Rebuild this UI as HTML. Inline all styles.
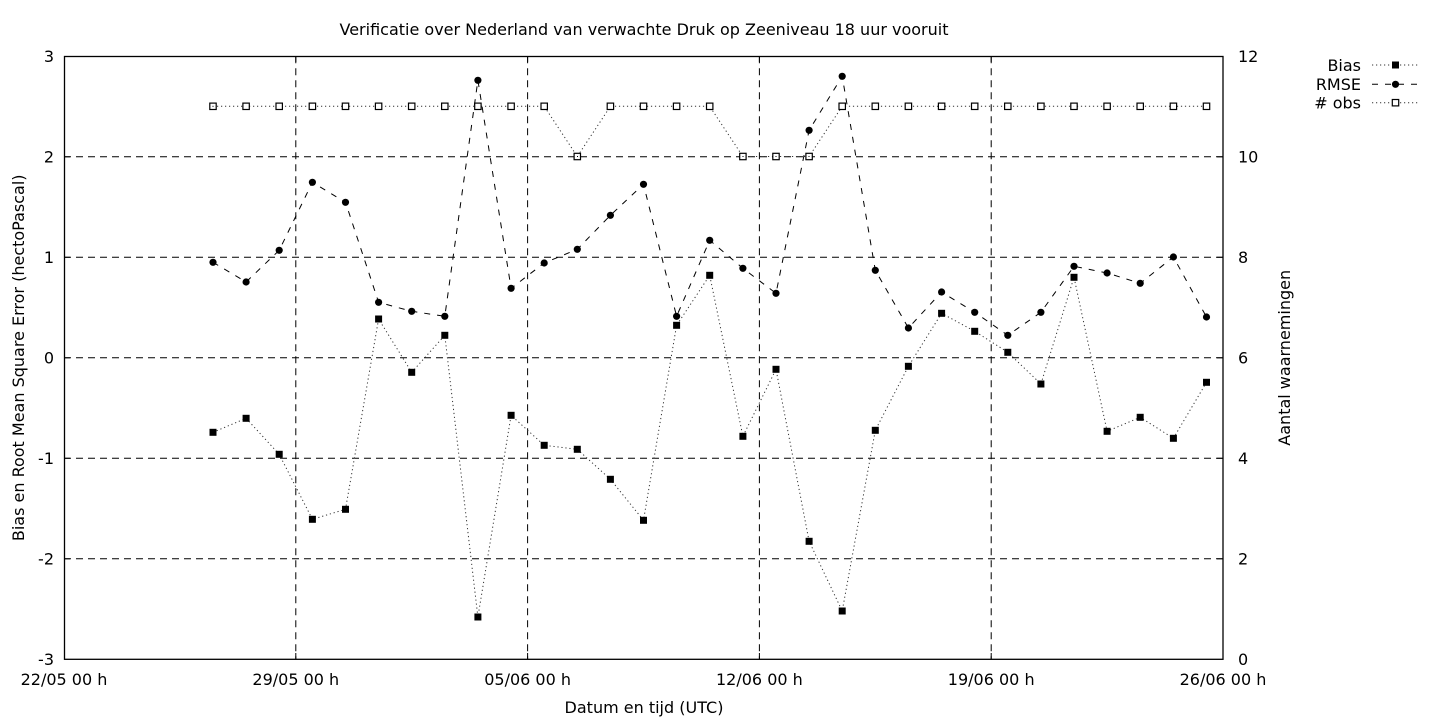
<!DOCTYPE html>
<html>
<head>
<meta charset="utf-8">
<style>
  html, body { margin:0; padding:0; background:#fff; }
  svg { display:block; }
  text { font-family: "DejaVu Sans", "Liberation Sans", sans-serif; font-size:16px; fill:#000; }
</style>
</head>
<body>
<svg width="1440" height="720" viewBox="0 0 1440 720" xmlns="http://www.w3.org/2000/svg">
  <rect x="0" y="0" width="1440" height="720" fill="#fff"/>

  <!-- Title -->
  <text x="644" y="35" text-anchor="middle">Verificatie over Nederland van verwachte Druk op Zeeniveau 18 uur vooruit</text>

  <!-- Grid -->
  <g stroke="#000" stroke-width="1" stroke-dasharray="7,5" fill="none">
    <line x1="64" y1="156.8" x2="1223" y2="156.8"/>
    <line x1="64" y1="257.3" x2="1223" y2="257.3"/>
    <line x1="64" y1="357.8" x2="1223" y2="357.8"/>
    <line x1="64" y1="458.3" x2="1223" y2="458.3"/>
    <line x1="64" y1="558.8" x2="1223" y2="558.8"/>
    <line x1="295.8" y1="56.3" x2="295.8" y2="659.3"/>
    <line x1="527.6" y1="56.3" x2="527.6" y2="659.3"/>
    <line x1="759.4" y1="56.3" x2="759.4" y2="659.3"/>
    <line x1="991.2" y1="56.3" x2="991.2" y2="659.3"/>
  </g>

  <!-- Ticks -->
  <g stroke="#000" stroke-width="1">
    <line x1="64" y1="156.8" x2="70" y2="156.8"/>
    <line x1="64" y1="257.3" x2="70" y2="257.3"/>
    <line x1="64" y1="357.8" x2="70" y2="357.8"/>
    <line x1="64" y1="458.3" x2="70" y2="458.3"/>
    <line x1="64" y1="558.8" x2="70" y2="558.8"/>
    <line x1="1217" y1="156.8" x2="1223" y2="156.8"/>
    <line x1="1217" y1="257.3" x2="1223" y2="257.3"/>
    <line x1="1217" y1="357.8" x2="1223" y2="357.8"/>
    <line x1="1217" y1="458.3" x2="1223" y2="458.3"/>
    <line x1="1217" y1="558.8" x2="1223" y2="558.8"/>
    <line x1="295.8" y1="653" x2="295.8" y2="659.3"/>
    <line x1="527.6" y1="653" x2="527.6" y2="659.3"/>
    <line x1="759.4" y1="653" x2="759.4" y2="659.3"/>
    <line x1="991.2" y1="653" x2="991.2" y2="659.3"/>
    <line x1="295.8" y1="56.3" x2="295.8" y2="62"/>
    <line x1="527.6" y1="56.3" x2="527.6" y2="62"/>
    <line x1="759.4" y1="56.3" x2="759.4" y2="62"/>
    <line x1="991.2" y1="56.3" x2="991.2" y2="62"/>
  </g>

  <!-- Axes box -->
  <rect x="64.5" y="56.5" width="1158.5" height="602.8" fill="none" stroke="#000" stroke-width="1.3"/>

  <!-- Left tick labels -->
  <g text-anchor="end">
    <text x="54" y="62">3</text>
    <text x="54" y="162.5">2</text>
    <text x="54" y="263">1</text>
    <text x="54" y="363.5">0</text>
    <text x="54" y="464">-1</text>
    <text x="54" y="564.5">-2</text>
    <text x="54" y="665">-3</text>
  </g>

  <!-- Right tick labels -->
  <g text-anchor="start">
    <text x="1238" y="62">12</text>
    <text x="1238" y="162.5">10</text>
    <text x="1238" y="263">8</text>
    <text x="1238" y="363.5">6</text>
    <text x="1238" y="464">4</text>
    <text x="1238" y="564.5">2</text>
    <text x="1238" y="665">0</text>
  </g>

  <!-- X tick labels -->
  <g text-anchor="middle">
    <text x="64" y="685">22/05 00 h</text>
    <text x="295.8" y="685">29/05 00 h</text>
    <text x="527.6" y="685">05/06 00 h</text>
    <text x="759.4" y="685">12/06 00 h</text>
    <text x="991.2" y="685">19/06 00 h</text>
    <text x="1223" y="685">26/06 00 h</text>
  </g>

  <!-- Axis labels -->
  <text x="644" y="713" text-anchor="middle">Datum en tijd (UTC)</text>
  <text transform="translate(24,357.8) rotate(-90)" text-anchor="middle">Bias en Root Mean Square Error (hectoPascal)</text>
  <text transform="translate(1290,357.8) rotate(-90)" text-anchor="middle">Aantal waarnemingen</text>

  <!-- Bias series -->
  <polyline fill="none" stroke="#333" stroke-width="1" stroke-dasharray="1.2,2.8"
    points="213.0,432.3 246.1,418.3 279.2,454.3 312.4,519.3 345.5,509.3 378.6,319 411.7,372.3 444.8,335.3 477.9,617 511.1,415.3 544.2,445.3 577.3,449.3 610.4,479.3 643.5,520.3 676.6,325.3 709.7,275.3 742.9,436.3 776.0,369.3 809.1,541.3 842.2,611 875.3,430.3 908.4,366.3 941.6,313.3 974.7,331.3 1007.8,352.3 1040.9,384 1074.0,277.3 1107.1,431.3 1140.2,417.3 1173.4,438.3 1206.5,382.3"/>
  <g fill="#000">
    <rect x="209.5" y="428.8" width="7" height="7"/>
    <rect x="242.6" y="414.8" width="7" height="7"/>
    <rect x="275.7" y="450.8" width="7" height="7"/>
    <rect x="308.9" y="515.8" width="7" height="7"/>
    <rect x="342.0" y="505.8" width="7" height="7"/>
    <rect x="375.1" y="315.5" width="7" height="7"/>
    <rect x="408.2" y="368.8" width="7" height="7"/>
    <rect x="441.3" y="331.8" width="7" height="7"/>
    <rect x="474.4" y="613.5" width="7" height="7"/>
    <rect x="507.6" y="411.8" width="7" height="7"/>
    <rect x="540.7" y="441.8" width="7" height="7"/>
    <rect x="573.8" y="445.8" width="7" height="7"/>
    <rect x="606.9" y="475.8" width="7" height="7"/>
    <rect x="640.0" y="516.8" width="7" height="7"/>
    <rect x="673.1" y="321.8" width="7" height="7"/>
    <rect x="706.2" y="271.8" width="7" height="7"/>
    <rect x="739.4" y="432.8" width="7" height="7"/>
    <rect x="772.5" y="365.8" width="7" height="7"/>
    <rect x="805.6" y="537.8" width="7" height="7"/>
    <rect x="838.7" y="607.5" width="7" height="7"/>
    <rect x="871.8" y="426.8" width="7" height="7"/>
    <rect x="904.9" y="362.8" width="7" height="7"/>
    <rect x="938.1" y="309.8" width="7" height="7"/>
    <rect x="971.2" y="327.8" width="7" height="7"/>
    <rect x="1004.3" y="348.8" width="7" height="7"/>
    <rect x="1037.4" y="380.5" width="7" height="7"/>
    <rect x="1070.5" y="273.8" width="7" height="7"/>
    <rect x="1103.6" y="427.8" width="7" height="7"/>
    <rect x="1136.7" y="413.8" width="7" height="7"/>
    <rect x="1169.9" y="434.8" width="7" height="7"/>
    <rect x="1203.0" y="378.8" width="7" height="7"/>
  </g>

  <!-- RMSE series -->
  <polyline fill="none" stroke="#000" stroke-width="1" stroke-dasharray="6,7"
    points="213.0,262.3 246.1,282 279.2,250.3 312.4,182.3 345.5,202.3 378.6,302.3 411.7,311.3 444.8,316.3 477.9,80.3 511.1,288.3 544.2,263 577.3,249.3 610.4,215.3 643.5,184.3 676.6,316.3 709.7,240.3 742.9,268.3 776.0,293.3 809.1,130.3 842.2,76.3 875.3,270.3 908.4,328 941.6,292 974.7,312.3 1007.8,335.3 1040.9,312.3 1074.0,266.3 1107.1,273 1140.2,283.3 1173.4,257 1206.5,317"/>
  <g fill="#000">
    <circle cx="213.0" cy="262.3" r="3.6"/>
    <circle cx="246.1" cy="282" r="3.6"/>
    <circle cx="279.2" cy="250.3" r="3.6"/>
    <circle cx="312.4" cy="182.3" r="3.6"/>
    <circle cx="345.5" cy="202.3" r="3.6"/>
    <circle cx="378.6" cy="302.3" r="3.6"/>
    <circle cx="411.7" cy="311.3" r="3.6"/>
    <circle cx="444.8" cy="316.3" r="3.6"/>
    <circle cx="477.9" cy="80.3" r="3.6"/>
    <circle cx="511.1" cy="288.3" r="3.6"/>
    <circle cx="544.2" cy="263" r="3.6"/>
    <circle cx="577.3" cy="249.3" r="3.6"/>
    <circle cx="610.4" cy="215.3" r="3.6"/>
    <circle cx="643.5" cy="184.3" r="3.6"/>
    <circle cx="676.6" cy="316.3" r="3.6"/>
    <circle cx="709.7" cy="240.3" r="3.6"/>
    <circle cx="742.9" cy="268.3" r="3.6"/>
    <circle cx="776.0" cy="293.3" r="3.6"/>
    <circle cx="809.1" cy="130.3" r="3.6"/>
    <circle cx="842.2" cy="76.3" r="3.6"/>
    <circle cx="875.3" cy="270.3" r="3.6"/>
    <circle cx="908.4" cy="328" r="3.6"/>
    <circle cx="941.6" cy="292" r="3.6"/>
    <circle cx="974.7" cy="312.3" r="3.6"/>
    <circle cx="1007.8" cy="335.3" r="3.6"/>
    <circle cx="1040.9" cy="312.3" r="3.6"/>
    <circle cx="1074.0" cy="266.3" r="3.6"/>
    <circle cx="1107.1" cy="273" r="3.6"/>
    <circle cx="1140.2" cy="283.3" r="3.6"/>
    <circle cx="1173.4" cy="257" r="3.6"/>
    <circle cx="1206.5" cy="317" r="3.6"/>
  </g>

  <!-- # obs series -->
  <polyline fill="none" stroke="#333" stroke-width="1" stroke-dasharray="1.2,2.8"
    points="213.0,106.3 246.1,106.3 279.2,106.3 312.4,106.3 345.5,106.3 378.6,106.3 411.7,106.3 444.8,106.3 477.9,106.3 511.1,106.3 544.2,106.3 577.3,156.5 610.4,106.3 643.5,106.3 676.6,106.3 709.7,106.3 742.9,156.5 776.0,156.5 809.1,156.5 842.2,106.3 875.3,106.3 908.4,106.3 941.6,106.3 974.7,106.3 1007.8,106.3 1040.9,106.3 1074.0,106.3 1107.1,106.3 1140.2,106.3 1173.4,106.3 1206.5,106.3"/>
  <g fill="#fff" stroke="#000" stroke-width="1.2">
    <rect x="209.8" y="103.1" width="6.4" height="6.4"/>
    <rect x="242.9" y="103.1" width="6.4" height="6.4"/>
    <rect x="276.0" y="103.1" width="6.4" height="6.4"/>
    <rect x="309.2" y="103.1" width="6.4" height="6.4"/>
    <rect x="342.3" y="103.1" width="6.4" height="6.4"/>
    <rect x="375.4" y="103.1" width="6.4" height="6.4"/>
    <rect x="408.5" y="103.1" width="6.4" height="6.4"/>
    <rect x="441.6" y="103.1" width="6.4" height="6.4"/>
    <rect x="474.7" y="103.1" width="6.4" height="6.4"/>
    <rect x="507.9" y="103.1" width="6.4" height="6.4"/>
    <rect x="541.0" y="103.1" width="6.4" height="6.4"/>
    <rect x="574.1" y="153.3" width="6.4" height="6.4"/>
    <rect x="607.2" y="103.1" width="6.4" height="6.4"/>
    <rect x="640.3" y="103.1" width="6.4" height="6.4"/>
    <rect x="673.4" y="103.1" width="6.4" height="6.4"/>
    <rect x="706.5" y="103.1" width="6.4" height="6.4"/>
    <rect x="739.7" y="153.3" width="6.4" height="6.4"/>
    <rect x="772.8" y="153.3" width="6.4" height="6.4"/>
    <rect x="805.9" y="153.3" width="6.4" height="6.4"/>
    <rect x="839.0" y="103.1" width="6.4" height="6.4"/>
    <rect x="872.1" y="103.1" width="6.4" height="6.4"/>
    <rect x="905.2" y="103.1" width="6.4" height="6.4"/>
    <rect x="938.4" y="103.1" width="6.4" height="6.4"/>
    <rect x="971.5" y="103.1" width="6.4" height="6.4"/>
    <rect x="1004.6" y="103.1" width="6.4" height="6.4"/>
    <rect x="1037.7" y="103.1" width="6.4" height="6.4"/>
    <rect x="1070.8" y="103.1" width="6.4" height="6.4"/>
    <rect x="1103.9" y="103.1" width="6.4" height="6.4"/>
    <rect x="1137.0" y="103.1" width="6.4" height="6.4"/>
    <rect x="1170.2" y="103.1" width="6.4" height="6.4"/>
    <rect x="1203.3" y="103.1" width="6.4" height="6.4"/>
  </g>
  <g fill="#000">
    <rect x="212.5" y="105.8" width="1" height="1"/>
    <rect x="577" y="156" width="1" height="1"/>
    <rect x="742.5" y="156" width="1" height="1"/>
    <rect x="775.5" y="156" width="1" height="1"/>
    <rect x="808.5" y="156" width="1" height="1"/>
  </g>

  <!-- Legend -->
  <g text-anchor="end">
    <text x="1361" y="71">Bias</text>
    <text x="1361" y="90">RMSE</text>
    <text x="1361" y="108.5">#&#160;obs</text>
  </g>
  <line x1="1372" y1="65" x2="1418" y2="65" stroke="#333" stroke-width="1" stroke-dasharray="1.2,2.8"/>
  <rect x="1392" y="61.5" width="7" height="7" fill="#000"/>
  <line x1="1372" y1="84.3" x2="1418" y2="84.3" stroke="#000" stroke-width="1" stroke-dasharray="6,7"/>
  <circle cx="1395.5" cy="84.3" r="3.6" fill="#000"/>
  <line x1="1372" y1="102.7" x2="1418" y2="102.7" stroke="#333" stroke-width="1" stroke-dasharray="1.2,2.8"/>
  <rect x="1392.3" y="99.5" width="6.4" height="6.4" fill="#fff" stroke="#000" stroke-width="1.2"/>
</svg>
</body>
</html>
